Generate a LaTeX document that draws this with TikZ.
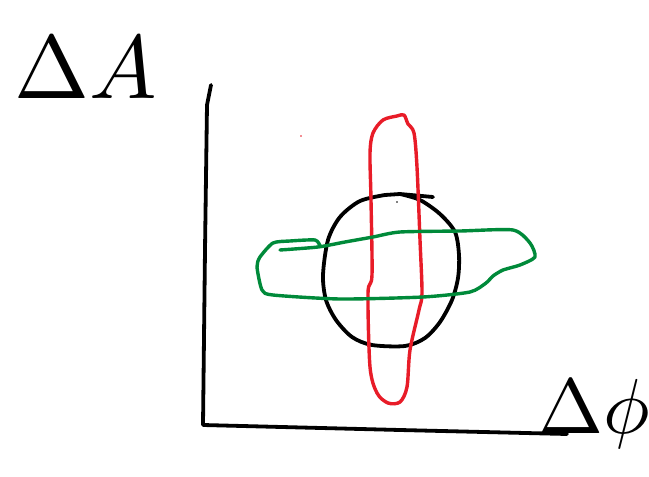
\documentclass[tikz,border=0pt]{standalone}
\usepackage{xcolor}
\definecolor{penred}{RGB}{232,28,40}
\definecolor{pengreen}{RGB}{0,138,58}
\tikzset{
  pen/.style={line width=3.8pt, line cap=round, line join=round},
  lbl/.style={inner sep=0pt, scale=#1},
}
\begin{document}
\begin{tikzpicture}[x=1pt,y=-1pt]
\useasboundingbox[fill=white] (0,0) rectangle (649,477);
% labels
\node[lbl=9] (dA) at (86,68) {$\Delta A$};
\node[lbl=7.8] (dphi) at (594,414) {$\Delta\phi$};
% axes
\coordinate (ytop) at (211,85);
\coordinate (origin) at (203,425);
\coordinate (xend) at (567,434);
\draw[pen] (ytop) -- (207,105) -- (205,250) -- (origin) -- (400,430) -- (xend);
% black circle
\draw[pen] (433,197) -- (400,194) -- (385,195)
  plot[smooth] coordinates {(385,195) (360,201) (340,217) (328,240) (323,275) (326,300) (336,320) (352,337) (372,345) (405,346) (425,338) (440,322) (452,300) (458,278) (459,255) (455,232) (440,214) (420,200) (400,194)};
% red loop
\draw[pen, penred, line width=3.4pt] plot[smooth cycle] coordinates {(397,116) (404,115) (408,124) (414,133) (417,167) (420,240) (422,293) (419,310) (410,350) (407,387) (400,402) (388,403) (377,393) (370,367) (368,293) (372,275) (371,200) (370,153) (373,133) (383,120)};
% green loop
\draw[pen, pengreen, line width=3.4pt] plot[smooth, tension=0.4] coordinates {(280,250) (318,247) (345,242) (373,237) (400,232) (460,231) (513,230) (530,243) (535,257) (520,265) (503,270) (493,276) (486,283) (470,292) (423,297) (340,299) (273,295) (262,290) (257,267) (260,257) (273,243) (290,241) (315,240) (320,246)};
% stray dots
\fill[penred] (301,136) circle (0.8pt);
\fill[black] (397,202) circle (0.8pt);
\end{tikzpicture}
\end{document}
